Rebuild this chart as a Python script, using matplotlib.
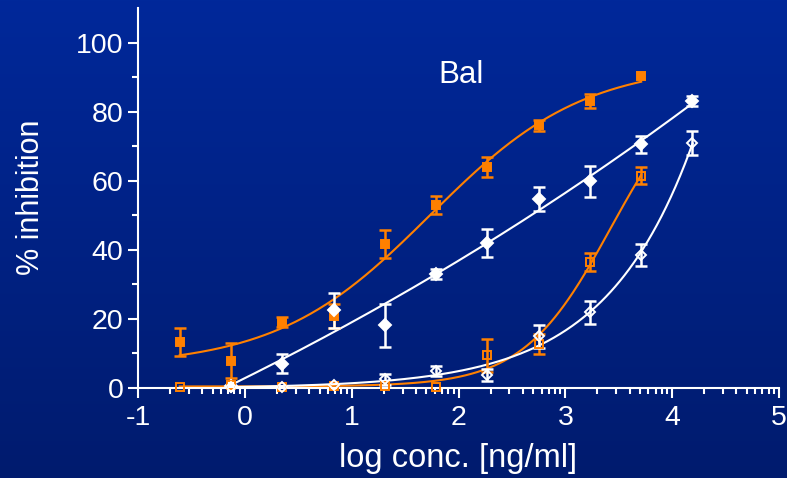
import numpy as np
import matplotlib
matplotlib.use('Agg')
import matplotlib.pyplot as plt
from matplotlib.ticker import FixedLocator

plt.rcParams['font.family'] = ['Liberation Sans', 'DejaVu Sans']
plt.rcParams['axes.unicode_minus'] = False

# log concentration of the 3-fold dilution series
log_conc = np.array([-0.61, -0.13, 0.35, 0.83, 1.31, 1.79, 2.27, 2.75, 3.23, 3.71, 4.19])

# orange filled squares (points 0..9)
orange_fill_y = np.array([13.3, 7.9, 19.2, 20.8, 41.7, 53.0, 64.0, 76.0, 83.0, 90.4])
orange_fill_err = np.array([4.0, 5.0, 1.4, 3.5, 4.0, 2.6, 3.0, 1.5, 2.0, np.nan])

# white filled diamonds (points 1..10)
white_fill_y = np.array([0.5, 7.0, 22.5, 18.2, 33.0, 42.0, 54.8, 59.8, 70.5, 83.0])
white_fill_err = np.array([np.nan, 2.8, 5.0, 6.2, 1.5, 4.0, 3.5, 4.5, 2.5, 1.5])

# orange open squares (points 0..9)
orange_open_y = np.array([0.3, 1.0, 0.3, 0.5, 0.6, 0.4, 9.5, 12.7, 36.5, 61.5])
orange_open_err = np.array([np.nan, np.nan, np.nan, np.nan, np.nan, np.nan, 4.8, 3.0, 2.7, 2.5])

# white open diamonds (points 1..10)
white_open_y = np.array([0.3, 0.3, 0.8, 2.5, 4.9, 3.8, 15.0, 21.9, 38.5, 71.0])
white_open_err = np.array([np.nan, np.nan, np.nan, 1.5, 1.5, 1.8, 3.3, 3.4, 3.2, 3.5])

label_text = 'Bal'

ORANGE = '#ff8000'
WHITE = 'white'


def logistic(x, p):
    bottom, top, ec50, hill = p
    return bottom + (top - bottom) / (1.0 + 10 ** ((ec50 - x) * hill))


def fit4pl(x, y, p0):
    # small Levenberg-Marquardt fit of the 4-parameter logistic
    p = np.array(p0, float)
    sse = lambda q: np.sum((y - logistic(x, q)) ** 2)
    lam = 1e-2
    for it in range(400):
        r = y - logistic(x, p)
        J = np.zeros((len(x), 4))
        for k in range(4):
            dp = np.zeros(4)
            dp[k] = 1e-6 * max(1.0, abs(p[k]))
            J[:, k] = (logistic(x, p + dp) - logistic(x, p)) / dp[k]
        A = J.T @ J
        g = J.T @ r
        step = np.linalg.solve(A + lam * np.diag(np.diag(A)) + 1e-12 * np.eye(4), g)
        trial = p + step
        if sse(trial) < sse(p):
            p = trial
            lam /= 3
        else:
            lam *= 3
    return p


fig = plt.figure(figsize=(7.87, 4.78), dpi=100)

# background gradient
bg = fig.add_axes([0, 0, 1, 1], zorder=-10)
grad = np.linspace(0, 1, 256).reshape(-1, 1)
cmap = matplotlib.colors.LinearSegmentedColormap.from_list('bg', ['#00289a', '#001b6e'])
bg.imshow(grad, aspect='auto', cmap=cmap, extent=[0, 1, 0, 1])
bg.axis('off')

ax = fig.add_axes([138 / 787, 1 - 388 / 478, (779 - 138) / 787, (388 - 8) / 478])
ax.patch.set_alpha(0)

series = [
    (log_conc[0:10], orange_fill_y, orange_fill_err, ORANGE, 's', ORANGE, 5.2),
    (log_conc[1:11], white_fill_y, white_fill_err, WHITE, 'D', WHITE, 5.8),
    (log_conc[0:10], orange_open_y, orange_open_err, ORANGE, 's', 'none', 5.2),
    (log_conc[1:11], white_open_y, white_open_err, WHITE, 'D', 'none', 5.5),
]

for x, y, err, col, mk, face, ms in series:
    p = fit4pl(x, y, [y.min(), y.max() * 1.1, x.mean(), 0.7])
    xs = np.linspace(x.min(), x.max(), 300)
    ax.plot(xs, logistic(xs, p), color=col, lw=1.5, zorder=2, clip_on=False)
    ax.errorbar(x, y, yerr=err, fmt='none', ecolor=col, elinewidth=1.8,
                capsize=4, capthick=1.8, zorder=3, clip_on=False)
    ax.plot(x, y, linestyle='none', marker=mk, ms=ms, mfc=face, mec=col,
            mew=1.4, zorder=4, clip_on=False)

ax.set_xlim(-1, 5)
ax.set_ylim(0, 110)

ax.set_xticks(range(-1, 6))
minor_x = [d + np.log10(k) for d in range(-1, 5) for k in range(2, 10)]
ax.xaxis.set_minor_locator(FixedLocator(minor_x))
ax.set_yticks(range(0, 101, 20))
ax.yaxis.set_minor_locator(FixedLocator(range(10, 101, 20)))

for side in ['top', 'right']:
    ax.spines[side].set_visible(False)
for side in ['left', 'bottom']:
    ax.spines[side].set_color(WHITE)
    ax.spines[side].set_linewidth(1.5)

ax.tick_params(which='major', direction='out', length=7.5, width=1.5, colors=WHITE,
               labelsize=20.5)
ax.tick_params(which='minor', direction='out', length=4, width=1.5, colors=WHITE)
ax.tick_params(axis='x', which='major', pad=5)
ax.tick_params(axis='y', which='major', pad=3)

ax.set_xlabel('log conc. [ng/ml]', color=WHITE, fontsize=23.5, va='baseline')
ax.xaxis.set_label_coords(0.499, -0.208)
ax.set_ylabel('% inhibition', color=WHITE, fontsize=22, va='center')
ax.yaxis.set_label_coords(-0.167, 0.503)

ax.text(2.02, 88.3, label_text, color=WHITE, fontsize=22.5, ha='center', va='baseline')

fig.savefig('out.png', dpi=100)
